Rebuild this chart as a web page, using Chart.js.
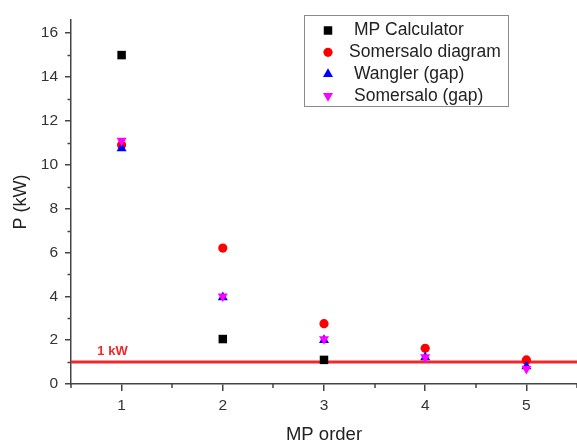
<!DOCTYPE html>
<html>
<head>
<meta charset="utf-8">
<script src="https://cdn.jsdelivr.net/npm/chart.js@4.4.0/dist/chart.umd.min.js"></script>
<style>
  body { margin: 0; background: #fff; }
</style>
</head>
<body>
<canvas id="powerChart" width="577" height="447"></canvas>
<script>
// MP order vs power
const orders = [1, 2, 3, 4, 5];
const mpCalculator = [15.0, 2.05, 1.1, null, null];
const somersaloDiagram = [10.9, 6.2, 2.75, 1.63, 1.1];
const wanglerGap = [10.75, 3.95, 2.0, 1.22, 0.8];
const somersaloGap = [11.1, 4.0, 2.05, 1.22, 0.7];
const limitLine = 1; // 1 kW threshold
const xTicks = [1, 2, 3, 4, 5];
const yTicks = [0, 2, 4, 6, 8, 10, 12, 14, 16];

const FONT = '"Liberation Sans", Arial, sans-serif';
const axisColor = '#444';

const toPoints = (vals) => orders.map((x, i) => ({ x: x, y: vals[i] })).filter(p => p.y !== null);

const series = [
  { label: 'MP Calculator', data: mpCalculator, style: 'rect', color: '#000000', radius: 6, rot: 0, order: 4 },
  { label: 'Somersalo diagram', data: somersaloDiagram, style: 'circle', color: '#ff0000', radius: 4.6, rot: 0, order: 3 },
  { label: 'Wangler (gap)', data: wanglerGap, style: 'triangle', color: '#0000ff', radius: 5.8, rot: 0, order: 2 },
  { label: 'Somersalo (gap)', data: somersaloGap, style: 'triangle', color: '#ff00ff', radius: 5.8, rot: 180, order: 1 }
];

function marker(ctx, style, x, y, r, rot, color) {
  ctx.save();
  ctx.fillStyle = color;
  ctx.beginPath();
  if (style === 'rect') {
    const s = r * Math.SQRT1_2;
    ctx.rect(x - s, y - s, 2 * s, 2 * s);
  } else if (style === 'circle') {
    ctx.arc(x, y, r, 0, Math.PI * 2);
  } else {
    let a = rot * Math.PI / 180;
    ctx.moveTo(x + Math.sin(a) * r, y - Math.cos(a) * r);
    a += Math.PI * 2 / 3;
    ctx.lineTo(x + Math.sin(a) * r, y - Math.cos(a) * r);
    a += Math.PI * 2 / 3;
    ctx.lineTo(x + Math.sin(a) * r, y - Math.cos(a) * r);
    ctx.closePath();
  }
  ctx.fill();
  ctx.restore();
}

const extras = {
  id: 'extras',
  afterDraw(chart) {
    const ctx = chart.ctx;
    const xs = chart.scales.x, ys = chart.scales.y;
    ctx.save();
    // minor ticks
    ctx.strokeStyle = axisColor;
    ctx.lineWidth = 1.5;
    for (let v = 1; v < 16.6; v += 2) {
      const py = Math.round(ys.getPixelForValue(v)) + 0.5;
      ctx.beginPath(); ctx.moveTo(xs.left, py); ctx.lineTo(xs.left - 3.5, py); ctx.stroke();
    }
    for (let v = 0.5; v <= 5.5; v += 1) {
      const px = Math.round(xs.getPixelForValue(v));
      ctx.beginPath(); ctx.moveTo(px, ys.bottom); ctx.lineTo(px, ys.bottom + 4); ctx.stroke();
    }
    // 1 kW label
    ctx.fillStyle = '#f0282d';
    ctx.font = 'bold 13px ' + FONT;
    ctx.textBaseline = 'middle';
    ctx.textAlign = 'left';
    ctx.fillText('1 kW', xs.getPixelForValue(0.76), ys.getPixelForValue(1.5));
    // legend box
    ctx.strokeStyle = '#8a8a8a';
    ctx.lineWidth = 1;
    ctx.strokeRect(304.5, 15.5, 204, 91);
    ctx.font = '17.5px ' + FONT;
    ctx.fillStyle = '#222';
    series.forEach((s, i) => {
      const cy = 30.5 + i * 21.8;
      marker(ctx, s.style, 328, cy, s.radius, s.rot, s.color);
      ctx.fillStyle = '#222';
      ctx.fillText(s.label, i === 1 ? 349 : 354, cy);
    });
    ctx.restore();
  }
};

const datasets = series.map(s => ({
  label: s.label,
  data: toPoints(s.data),
  pointStyle: s.style,
  pointRadius: s.radius,
  pointHoverRadius: s.radius,
  pointRotation: s.rot,
  pointBackgroundColor: s.color,
  pointBorderWidth: 0,
  showLine: false,
  order: s.order
}));

datasets.push({
  label: '1 kW',
  data: [{ x: 0.47, y: limitLine }, { x: 5.5, y: limitLine }],
  showLine: true,
  borderColor: '#f0282d',
  borderWidth: 3,
  pointRadius: 0,
  order: 10
});

new Chart(document.getElementById('powerChart'), {
  type: 'scatter',
  data: { datasets: datasets },
  plugins: [extras],
  options: {
    responsive: false,
    animation: false,
    layout: { autoPadding: false, padding: { top: 20, right: 0, left: 0, bottom: 0 } },
    plugins: { legend: { display: false }, tooltip: { enabled: false } },
    scales: {
      x: {
        type: 'linear',
        min: 0.5,
        max: 5.5,
        afterBuildTicks: (scale) => { scale.ticks = xTicks.map(v => ({ value: v })); },
        afterFit: (scale) => { scale.height = 63; },
        grid: { display: true, drawOnChartArea: false, drawTicks: true, tickLength: 7, color: axisColor, lineWidth: 1.5 },
        border: { display: true, color: axisColor, width: 1.5 },
        ticks: { color: '#333', font: { family: FONT, size: 15.5 }, padding: 5, maxRotation: 0 },
        title: { display: true, text: 'MP order', color: '#222', font: { family: FONT, size: 18.5 }, padding: { bottom: 1 } }
      },
      y: {
        type: 'linear',
        min: 0,
        max: 16.6,
        afterBuildTicks: (scale) => { scale.ticks = yTicks.map(v => ({ value: v })); },
        afterFit: (scale) => { scale.width = 71; },
        grid: { display: true, drawOnChartArea: false, drawTicks: true, tickLength: 6, color: axisColor, lineWidth: 1.5 },
        border: { display: true, color: axisColor, width: 1.5 },
        ticks: { color: '#333', font: { family: FONT, size: 15.5 }, padding: 7 },
        title: { display: true, text: 'P (kW)', color: '#222', font: { family: FONT, size: 18 }, padding: { top: 10 } }
      }
    }
  }
});
</script>
</body>
</html>
